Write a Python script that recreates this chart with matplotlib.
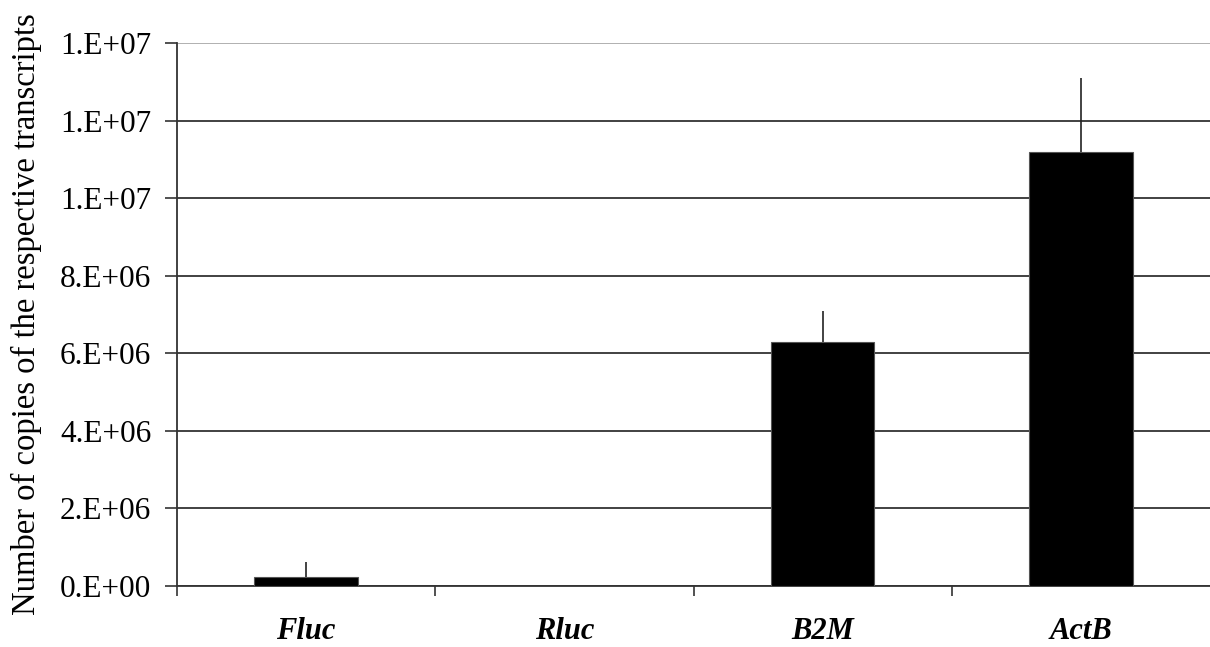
import math
import matplotlib
matplotlib.use("Agg")
import matplotlib.pyplot as plt
from matplotlib.ticker import FuncFormatter, FixedLocator

categories = ["Fluc", "Rluc", "B2M", "ActB"]
values = [0.23e6, 0.0, 6.30e6, 11.2e6]
errors_up = [0.38e6, 0.0, 0.80e6, 1.90e6]
y_ticks = [0, 2e6, 4e6, 6e6, 8e6, 10e6, 12e6, 14e6]
y_label = "Number of copies of the respective transcripts"

plt.rcParams['font.family'] = ['Liberation Serif', 'DejaVu Serif']

fig = plt.figure(figsize=(12.1, 6.47), dpi=100)
ax = fig.add_axes([0.1463, 0.0943, 0.8537, 0.8392])

x = list(range(len(categories)))
zeros = [0] * len(categories)
ax.bar(x, values, width=0.40, color='black', edgecolor='#555555', linewidth=0.8, zorder=3)
ax.errorbar(x, values, yerr=[zeros, errors_up], fmt='none', ecolor='#222222',
            elinewidth=1.2, capsize=0, zorder=4)

ax.set_xlim(-0.5, 3.5)
ax.set_ylim(0, 14e6)
ax.set_yticks(y_ticks)

def fmt(v, pos):
    if v == 0:
        return "0.E+00"
    e = int(math.floor(math.log10(abs(v)) + 1e-9))
    m = v / 10 ** e
    return f"{m:.0f}.E+{e:02d}"

ax.yaxis.set_major_formatter(FuncFormatter(fmt))
ax.set_xticks(x)
ax.set_xticklabels(categories, fontstyle='italic', fontweight='bold', fontsize=22)
ax.xaxis.set_minor_locator(FixedLocator([-0.5, 0.5, 1.5, 2.5]))
ax.tick_params(axis='x', which='major', length=0, pad=22)
ax.tick_params(axis='x', which='minor', length=7, width=1.2, color='#333333', direction='out')
ax.tick_params(axis='y', which='major', length=8.6, width=1.2, color='#333333', direction='out',
               labelsize=22.5, pad=10)

ax.yaxis.grid(True, color='#333333', linewidth=1.3, zorder=0)
ax.set_axisbelow(True)
gl = ax.get_ygridlines()
gl[-1].set_color('#aaaaaa')

for s in ['top', 'right']:
    ax.spines[s].set_visible(False)
ax.spines['left'].set_color('#333333')
ax.spines['left'].set_linewidth(1.3)
ax.spines['bottom'].set_color('#333333')
ax.spines['bottom'].set_linewidth(1.3)

ax.set_ylabel(y_label, fontsize=23.5)
ax.yaxis.set_label_coords(-0.131, 0.5)

fig.savefig("out.png", dpi=100, facecolor='white')
